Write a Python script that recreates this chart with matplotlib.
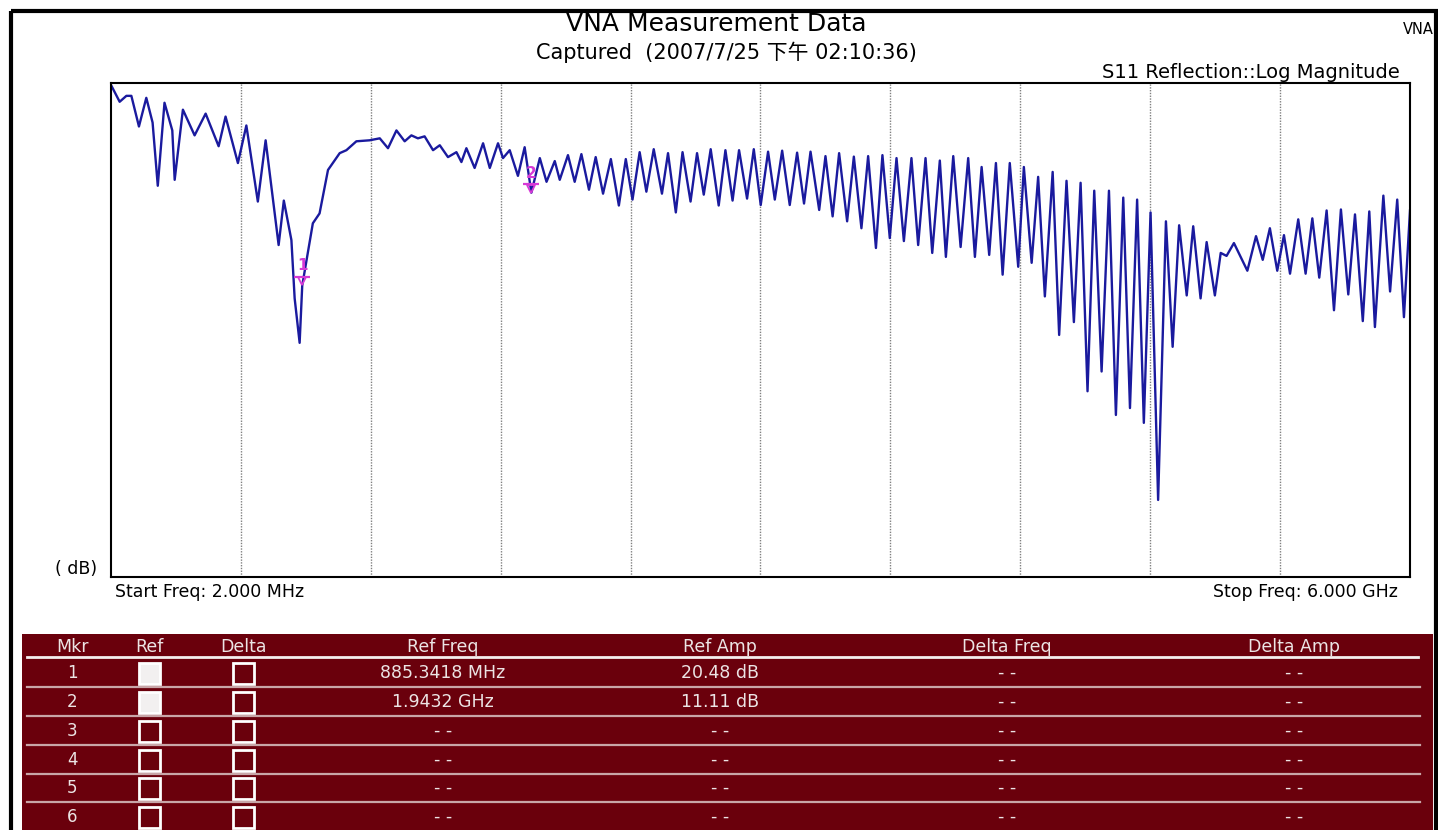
import matplotlib
matplotlib.use("Agg")
import matplotlib.pyplot as plt
import matplotlib.transforms as mtransforms
import numpy as np
from matplotlib.patches import Rectangle

plt.rcParams["font.family"] = ["DejaVu Sans", "Noto Sans CJK SC"]

# S11 trace read off the screen capture: frequency (MHz) vs return loss (dB),
# taken at the peaks and dips of the ripple.
freq_mhz = [
    2, 42, 73, 96, 131, 165, 194, 218, 249, 285, 296, 334, 388, 439, 499, 531,
    588, 627, 680, 716, 776, 800, 835, 850, 873, 885, 934, 965, 1004, 1058,
    1089, 1135, 1196, 1243, 1281, 1320, 1358, 1389, 1419, 1450, 1489, 1520,
    1558, 1597, 1620, 1643, 1681, 1720, 1751, 1789, 1812, 1843, 1881, 1912,
    1943, 1982, 2013, 2051, 2074, 2112, 2143, 2174, 2209, 2240, 2274, 2310,
    2347, 2379, 2410, 2443, 2474, 2508, 2546, 2574, 2610, 2641, 2678, 2708,
    2739, 2771, 2808, 2839, 2872, 2902, 2939, 2970, 3002, 3036, 3067, 3101,
    3136, 3170, 3202, 3232, 3272, 3301, 3334, 3364, 3401, 3432, 3467, 3498,
    3534, 3564, 3598, 3629, 3663, 3698, 3729, 3763, 3794, 3829, 3857, 3891,
    3925, 3960, 3991, 4022, 4057, 4088, 4119, 4152, 4191, 4217, 4253, 4283,
    4314, 4350, 4380, 4414, 4448, 4479, 4511, 4542, 4576, 4610, 4642, 4676,
    4707, 4740, 4771, 4802, 4837, 4873, 4904, 4934, 4969, 4999, 5033, 5061,
    5099, 5126, 5153, 5187, 5249, 5289, 5320, 5353, 5387, 5418, 5446, 5484,
    5518, 5549, 5581, 5615, 5649, 5681, 5715, 5746, 5782, 5812, 5838, 5877,
    5908, 5941, 5972, 6000,
]
s11_db = [
    0.2, 1.9, 1.3, 1.3, 4.4, 1.5, 4.0, 10.4, 2.0, 4.8, 9.8, 2.7, 5.3, 3.1, 6.4, 3.4,
    8.1, 4.3, 12.0, 5.8, 16.4, 11.9, 15.9, 21.8, 26.3, 20.5, 14.2, 13.2, 8.8, 7.1,
    6.8, 5.9, 5.8, 5.6, 6.6, 4.8, 5.9, 5.3, 5.6, 5.4, 6.8, 6.3,
    7.5, 7.0, 8.0, 6.6, 8.6, 6.1, 8.6, 6.1, 7.6, 6.8, 9.4, 6.5,
    11.1, 7.6, 10.0, 7.9, 9.8, 7.3, 10.0, 7.2, 10.8, 7.5, 11.2, 7.7,
    12.4, 7.7, 11.8, 7.0, 11.0, 6.7, 11.2, 7.1, 13.1, 7.0, 12.0, 7.1,
    11.3, 6.7, 12.4, 6.8, 11.9, 6.8, 11.7, 6.7, 12.35, 6.95, 11.8, 6.85,
    12.35, 7.05, 12.2, 6.95, 12.85, 7.4, 13.5, 7.1, 14.0, 7.45, 14.7, 7.4,
    16.7, 7.3, 15.7, 7.6, 16.0, 7.6, 16.4, 7.6, 17.2, 7.85, 17.6, 7.4,
    16.6, 7.6, 17.6, 8.5, 17.4, 8.1, 19.4, 8.1, 18.6, 8.5, 18.2, 9.5,
    21.6, 9.0, 25.5, 9.9, 24.2, 10.1, 31.2, 10.9, 29.2, 10.9, 33.6, 11.6,
    32.9, 11.8, 34.4, 13.1, 42.2, 14.0, 26.7, 14.4, 21.5, 14.5, 21.8, 16.1,
    21.5, 17.2, 17.5, 16.2, 19.0, 15.5, 17.9, 14.7, 19.0, 15.4, 19.3, 13.8,
    19.3, 13.7, 19.7, 12.9, 23.0, 12.8, 21.4, 13.3, 24.1, 13.0, 24.7, 11.4,
    21.1, 11.8, 23.7, 12.9,
]

start_mhz, stop_mhz = 2, 6000
db_top, db_bottom = 0, 50

# marker table
table_headers = ["Mkr", "Ref", "Delta", "Ref Freq", "Ref Amp", "Delta Freq", "Delta Amp"]
marker_ids = ["1", "2", "3", "4", "5", "6"]
marker_freq = [885.3418, 1943.2]
marker_amp = [20.48, 11.11]
ref_freq_txt = ["885.3418 MHz", "1.9432 GHz", "- -", "- -", "- -", "- -"]
ref_amp_txt = ["20.48 dB", "11.11 dB", "- -", "- -", "- -", "- -"]
delta_freq_txt = ["- -", "- -", "- -", "- -", "- -", "- -"]
delta_amp_txt = ["- -", "- -", "- -", "- -", "- -", "- -"]
ref_checked = [True, True, False, False, False, False]

W, H = 1438, 830
TRACE = "#1a1a9e"
MAGENTA = "#d63ad6"
TABLE_BG = "#6a000c"
TABLE_TXT = "#ece4e4"

fig = plt.figure(figsize=(W / 100, H / 100), dpi=100)
fig.patch.set_facecolor("white")

# page layer in pixel coordinates (frame, captions, marker table)
page = fig.add_axes([0, 0, 1, 1])
page.set_xlim(0, W)
page.set_ylim(H, 0)
page.axis("off")

page.add_patch(Rectangle((10.5, 11.5), 1425, 830, fill=False, ec="black", lw=3))

page.text(716, 24, "VNA Measurement Data", ha="center", va="center", fontsize=18)
page.text(726, 52, "Captured  (2007/7/25 下午 02:10:36)", ha="center", va="center", fontsize=15)
page.text(1434, 30, "VNA", ha="right", va="center", fontsize=10.5)
page.text(1400, 73, "S11 Reflection::Log Magnitude", ha="right", va="center", fontsize=14)
page.text(97, 569, "( dB)", ha="right", va="center", fontsize=12.5)
page.text(115, 592, "Start Freq: 2.000 MHz", ha="left", va="center", fontsize=12.5)
page.text(1398, 592, "Stop Freq: 6.000 GHz", ha="right", va="center", fontsize=12.5)

# marker table
page.add_patch(Rectangle((22, 634), 1411, 210, fc=TABLE_BG, ec="none"))
col_x = [72, 149, 243, 443, 720, 1007, 1294]
header_y = 647
row_y = [673, 702, 731, 760, 788, 817]
for x, label in zip(col_x, table_headers):
    page.text(x, header_y, label, ha="center", va="center", fontsize=12.5, color=TABLE_TXT)
page.plot([27, 1418], [657, 657], color="#f4eeee", lw=2)
for y in [687, 716, 745, 774, 802]:
    page.plot([27, 1420], [y, y], color="#c8a6a8", lw=1.6)

box = 21
for i, y in enumerate(row_y):
    page.text(col_x[0], y, marker_ids[i], ha="center", va="center", fontsize=12, color=TABLE_TXT)
    fill = "#f2f0f0" if ref_checked[i] else TABLE_BG
    page.add_patch(Rectangle((col_x[1] - box / 2, y - box / 2), box, box,
                             fc=fill, ec="white", lw=2))
    page.add_patch(Rectangle((col_x[2] - box / 2, y - box / 2), box, box,
                             fc=TABLE_BG, ec="white", lw=2))
    for x, txt in zip(col_x[3:], [ref_freq_txt[i], ref_amp_txt[i],
                                  delta_freq_txt[i], delta_amp_txt[i]]):
        page.text(x, y, txt, ha="center", va="center", fontsize=12.5, color=TABLE_TXT)

# measurement plot
left, right, top, bottom = 111, 1410, 83, 577
ax = fig.add_axes([left / W, 1 - bottom / H, (right - left) / W, (bottom - top) / H])
ax.set_facecolor("white")
ax.plot(freq_mhz, s11_db, color=TRACE, lw=1.7)
ax.set_xlim(start_mhz, stop_mhz)
ax.set_ylim(db_bottom, db_top)
for xv in np.linspace(start_mhz, stop_mhz, 11)[1:-1]:
    ax.axvline(xv, color="#808080", ls=(0, (1, 1)), lw=1.0, zorder=0)
ax.set_xticks([])
ax.set_yticks([])
for sp in ax.spines.values():
    sp.set_linewidth(1.5)
    sp.set_color("black")

for i, (f, a) in enumerate(zip(marker_freq, marker_amp)):
    tri = mtransforms.offset_copy(ax.transData, fig=fig, x=0, y=3, units="points")
    bar = mtransforms.offset_copy(ax.transData, fig=fig, x=0, y=6, units="points")
    ax.plot([f], [a], marker="v", ms=6, mfc="none", mec=MAGENTA, mew=1.3, transform=tri)
    ax.plot([f], [a], marker="_", ms=11, mec=MAGENTA, mew=1.6, transform=bar)
    ax.annotate(marker_ids[i], (f, a), xytext=(0, 14), textcoords="offset points",
                ha="center", va="center", fontsize=11, fontweight="bold", color=MAGENTA)

fig.savefig("out.png", dpi=100)
